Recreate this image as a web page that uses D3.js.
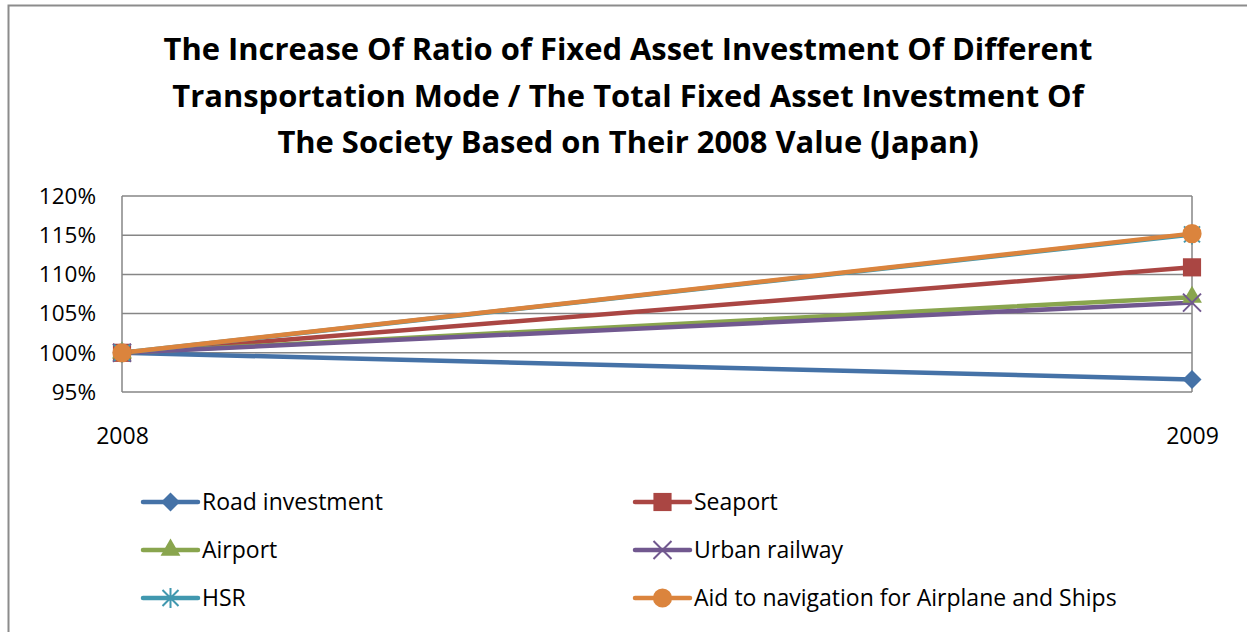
<!DOCTYPE html>
<html>
<head>
<meta charset="utf-8">
<script src="https://cdn.jsdelivr.net/npm/d3@7"></script>
<style>
  html, body { margin: 0; padding: 0; background: #fff; }
  svg { display: block; }
  text { font-family: "Open Sans", "Noto Sans", sans-serif; fill: #000; }
</style>
</head>
<body>
<svg id="chart" width="1247" height="632"></svg>
<script>
// ---- data ----
const categories = ["2008", "2009"];
const seriesNames = ["Road investment", "Seaport", "Airport", "Urban railway", "HSR", "Aid to navigation for Airplane and Ships"];
const roadValues = [1.000, 0.966];
const seaportValues = [1.000, 1.109];
const airportValues = [1.000, 1.071];
const urbanRailwayValues = [1.000, 1.064];
const hsrValues = [1.000, 1.151];
const aidValues = [1.000, 1.152];
const yTicks = [0.95, 1.00, 1.05, 1.10, 1.15, 1.20];
const titleLines = [
  "The Increase Of Ratio of Fixed Asset Investment Of Different",
  "Transportation Mode / The Total Fixed Asset Investment Of",
  "The Society Based on Their 2008 Value (Japan)"
];

const series = [
  { name: seriesNames[0], values: roadValues, color: "#4572A7", marker: "diamond" },
  { name: seriesNames[1], values: seaportValues, color: "#AA4643", marker: "square" },
  { name: seriesNames[2], values: airportValues, color: "#89A54E", marker: "triangle" },
  { name: seriesNames[3], values: urbanRailwayValues, color: "#71588F", marker: "x" },
  { name: seriesNames[4], values: hsrValues, color: "#4198AF", marker: "star" },
  { name: seriesNames[5], values: aidValues, color: "#DB843D", marker: "circle" }
];

const svg = d3.select("#chart");

// outer chart border
svg.append("rect").attr("x", 8.5).attr("y", 5.5).attr("width", 1260).attr("height", 640)
  .attr("fill", "#fff").attr("stroke", "#8c8c8c").attr("stroke-width", 2);

// title
const title = svg.append("g");
const titleY = [60, 107, 153];
const tt = title.selectAll("text").data(titleLines).join("text")
  .attr("x", 628).attr("y", (d, i) => titleY[i])
  .attr("text-anchor", "middle").attr("font-weight", "bold").attr("font-size", 28)
  .text(d => d);
const w0 = tt.nodes()[0].getComputedTextLength();
const fs = 28 * 929 / w0;
tt.attr("font-size", fs);

// scales
const x = d3.scalePoint().domain(categories).range([122, 1192]);
const y = d3.scaleLinear().domain([0.95, 1.20]).range([392, 196]);

// gridlines
svg.append("g").selectAll("line").data(yTicks).join("line")
  .attr("x1", 122).attr("x2", 1192)
  .attr("y1", d => y(d)).attr("y2", d => y(d))
  .attr("stroke", "#868686").attr("stroke-width", 1.5);
// vertical plot edges
svg.append("line").attr("x1", 122).attr("x2", 122).attr("y1", y(1.20)).attr("y2", y(0.95))
  .attr("stroke", "#868686").attr("stroke-width", 1.5);
svg.append("line").attr("x1", 1192).attr("x2", 1192).attr("y1", y(1.20)).attr("y2", y(0.95))
  .attr("stroke", "#868686").attr("stroke-width", 1.5);

// y axis labels
const yAxis = d3.axisLeft(y).tickValues(yTicks).tickSize(0).tickPadding(26)
  .tickFormat(d3.format(".0%"));
const gy = svg.append("g").attr("transform", "translate(122,0)").call(yAxis);
gy.select(".domain").remove();
gy.selectAll("text").attr("font-size", 22.5).attr("fill", "#000")
  .style("font-family", "'Open Sans', sans-serif");

// x axis labels
const xAxis = d3.axisBottom(x).tickSize(0).tickPadding(36);
const gx = svg.append("g").attr("transform", "translate(0,392)").call(xAxis);
gx.select(".domain").remove();
gx.selectAll("text").attr("font-size", 23).attr("fill", "#000")
  .style("font-family", "'Open Sans', sans-serif");

// marker drawing
function drawMarker(g, type, color) {
  if (type === "diamond") {
    g.append("path").attr("d", d3.symbol(d3.symbolSquare, 180)()).attr("transform", "rotate(45)").attr("fill", color);
  } else if (type === "square") {
    g.append("path").attr("d", d3.symbol(d3.symbolSquare, 330)()).attr("fill", color);
  } else if (type === "triangle") {
    g.append("path").attr("d", d3.symbol(d3.symbolTriangle, 170)()).attr("fill", color);
  } else if (type === "circle") {
    g.append("path").attr("d", d3.symbol(d3.symbolCircle, 290)()).attr("fill", color);
  } else if (type === "x") {
    g.append("path").attr("d", "M-9,-9L9,9M-9,9L9,-9").attr("stroke", color).attr("stroke-width", 2).attr("fill", "none");
  } else if (type === "star") {
    g.append("path").attr("d", "M-8,-8L8,8M-8,8L8,-8M0,-10L0,10").attr("stroke", color).attr("stroke-width", 2).attr("fill", "none");
  }
}

// lines
const line = d3.line().x((d, i) => x(categories[i])).y(d => y(d));
const plot = svg.append("g");
series.forEach(s => {
  plot.append("path").datum(s.values).attr("d", line)
    .attr("fill", "none").attr("stroke", s.color).attr("stroke-width", 4.5)
    .attr("stroke-linecap", "round");
});
series.forEach(s => {
  s.values.forEach((v, i) => {
    const g = plot.append("g").attr("transform", `translate(${x(categories[i])},${y(v)})`);
    drawMarker(g, s.marker, s.color);
  });
});

// legend
const legendCols = [{ x1: 143, x2: 198, tx: 202 }, { x1: 635, x2: 690, tx: 694 }];
const legendRows = [502, 550, 598];
series.forEach((s, i) => {
  const col = legendCols[i % 2];
  const ry = legendRows[Math.floor(i / 2)];
  const g = svg.append("g");
  g.append("line").attr("x1", col.x1).attr("x2", col.x2).attr("y1", ry).attr("y2", ry)
    .attr("stroke", s.color).attr("stroke-width", 4.5).attr("stroke-linecap", "round");
  const mg = g.append("g").attr("transform", `translate(${(col.x1 + col.x2) / 2},${ry})`);
  drawMarker(mg, s.marker, s.color);
  g.append("text").attr("x", col.tx).attr("y", ry).attr("dy", "0.35em")
    .attr("font-size", 23).text(s.name);
});
</script>
</body>
</html>
